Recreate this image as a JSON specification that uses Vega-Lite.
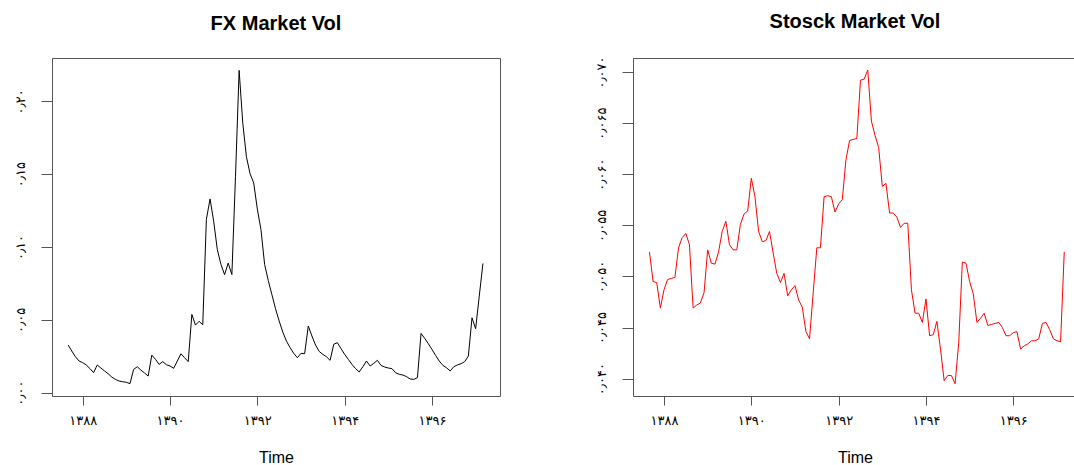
{
  "$schema": "https://vega.github.io/schema/vega-lite/v6.json",
  "background": "white",
  "padding": {"left": 13, "top": 11, "right": 0, "bottom": 0},
  "spacing": 93,
  "datasets": {
    "vol": [
      {"t": 1387.667, "fx": 0.0327, "stock": 0.0524},
      {"t": 1387.75, "fx": 0.0286, "stock": 0.0495},
      {"t": 1387.833, "fx": 0.0247, "stock": 0.0494},
      {"t": 1387.917, "fx": 0.0217, "stock": 0.0469},
      {"t": 1388, "fx": 0.0206, "stock": 0.0487},
      {"t": 1388.083, "fx": 0.0190, "stock": 0.0497},
      {"t": 1388.167, "fx": 0.0165, "stock": 0.0498},
      {"t": 1388.25, "fx": 0.0137, "stock": 0.0499},
      {"t": 1388.333, "fx": 0.0190, "stock": 0.0528},
      {"t": 1388.417, "fx": 0.0169, "stock": 0.0538},
      {"t": 1388.5, "fx": 0.0149, "stock": 0.0542},
      {"t": 1388.583, "fx": 0.0130, "stock": 0.0531},
      {"t": 1388.667, "fx": 0.0107, "stock": 0.0469},
      {"t": 1388.75, "fx": 0.0091, "stock": 0.0472},
      {"t": 1388.833, "fx": 0.0080, "stock": 0.0474},
      {"t": 1388.917, "fx": 0.0075, "stock": 0.0484},
      {"t": 1389, "fx": 0.0071, "stock": 0.0526},
      {"t": 1389.083, "fx": 0.0062, "stock": 0.0513},
      {"t": 1389.167, "fx": 0.0160, "stock": 0.0512},
      {"t": 1389.25, "fx": 0.0178, "stock": 0.0524},
      {"t": 1389.333, "fx": 0.0155, "stock": 0.0544},
      {"t": 1389.417, "fx": 0.0135, "stock": 0.0554},
      {"t": 1389.5, "fx": 0.0114, "stock": 0.0531},
      {"t": 1389.583, "fx": 0.0258, "stock": 0.0526},
      {"t": 1389.667, "fx": 0.0229, "stock": 0.0526},
      {"t": 1389.75, "fx": 0.0194, "stock": 0.0551},
      {"t": 1389.833, "fx": 0.0213, "stock": 0.0561},
      {"t": 1389.917, "fx": 0.0192, "stock": 0.0564},
      {"t": 1390, "fx": 0.0183, "stock": 0.0596},
      {"t": 1390.083, "fx": 0.0167, "stock": 0.0578},
      {"t": 1390.167, "fx": 0.0217, "stock": 0.0544},
      {"t": 1390.25, "fx": 0.0267, "stock": 0.0534},
      {"t": 1390.333, "fx": 0.0240, "stock": 0.0535},
      {"t": 1390.417, "fx": 0.0213, "stock": 0.0544},
      {"t": 1390.5, "fx": 0.0537, "stock": 0.0523},
      {"t": 1390.583, "fx": 0.0464, "stock": 0.0503},
      {"t": 1390.667, "fx": 0.0490, "stock": 0.0494},
      {"t": 1390.75, "fx": 0.0466, "stock": 0.0503},
      {"t": 1390.833, "fx": 0.1190, "stock": 0.0481},
      {"t": 1390.917, "fx": 0.1330, "stock": 0.0487},
      {"t": 1391, "fx": 0.1177, "stock": 0.0491},
      {"t": 1391.083, "fx": 0.0983, "stock": 0.0477},
      {"t": 1391.167, "fx": 0.0880, "stock": 0.0470},
      {"t": 1391.25, "fx": 0.0810, "stock": 0.0446},
      {"t": 1391.333, "fx": 0.0890, "stock": 0.0439},
      {"t": 1391.417, "fx": 0.0811, "stock": 0.0484},
      {"t": 1391.5, "fx": 0.1486, "stock": 0.0528},
      {"t": 1391.583, "fx": 0.2213, "stock": 0.0528},
      {"t": 1391.667, "fx": 0.1850, "stock": 0.0578},
      {"t": 1391.75, "fx": 0.1620, "stock": 0.0579},
      {"t": 1391.833, "fx": 0.1504, "stock": 0.0578},
      {"t": 1391.917, "fx": 0.1440, "stock": 0.0563},
      {"t": 1392, "fx": 0.1260, "stock": 0.0571},
      {"t": 1392.083, "fx": 0.1120, "stock": 0.0575},
      {"t": 1392.167, "fx": 0.0880, "stock": 0.0614},
      {"t": 1392.25, "fx": 0.0770, "stock": 0.0633},
      {"t": 1392.333, "fx": 0.0674, "stock": 0.0634},
      {"t": 1392.417, "fx": 0.0576, "stock": 0.0635},
      {"t": 1392.5, "fx": 0.0492, "stock": 0.0692},
      {"t": 1392.583, "fx": 0.0416, "stock": 0.0693},
      {"t": 1392.667, "fx": 0.0354, "stock": 0.0702},
      {"t": 1392.75, "fx": 0.0309, "stock": 0.0652},
      {"t": 1392.833, "fx": 0.0270, "stock": 0.0638},
      {"t": 1392.917, "fx": 0.0240, "stock": 0.0626},
      {"t": 1393, "fx": 0.0270, "stock": 0.0588},
      {"t": 1393.083, "fx": 0.0267, "stock": 0.0591},
      {"t": 1393.167, "fx": 0.0457, "stock": 0.0562},
      {"t": 1393.25, "fx": 0.0389, "stock": 0.0562},
      {"t": 1393.333, "fx": 0.0327, "stock": 0.0558},
      {"t": 1393.417, "fx": 0.0283, "stock": 0.0548},
      {"t": 1393.5, "fx": 0.0263, "stock": 0.0552},
      {"t": 1393.583, "fx": 0.0247, "stock": 0.0552},
      {"t": 1393.667, "fx": 0.0222, "stock": 0.0487},
      {"t": 1393.75, "fx": 0.0332, "stock": 0.0464},
      {"t": 1393.833, "fx": 0.0343, "stock": 0.0464},
      {"t": 1393.917, "fx": 0.0302, "stock": 0.0455},
      {"t": 1394, "fx": 0.0263, "stock": 0.0478},
      {"t": 1394.083, "fx": 0.0229, "stock": 0.0442},
      {"t": 1394.167, "fx": 0.0194, "stock": 0.0443},
      {"t": 1394.25, "fx": 0.0165, "stock": 0.0456},
      {"t": 1394.333, "fx": 0.0142, "stock": 0.0429},
      {"t": 1394.417, "fx": 0.0178, "stock": 0.0398},
      {"t": 1394.5, "fx": 0.0217, "stock": 0.0403},
      {"t": 1394.583, "fx": 0.0183, "stock": 0.0403},
      {"t": 1394.667, "fx": 0.0201, "stock": 0.0395},
      {"t": 1394.75, "fx": 0.0222, "stock": 0.0435},
      {"t": 1394.833, "fx": 0.0187, "stock": 0.0514},
      {"t": 1394.917, "fx": 0.0176, "stock": 0.0513},
      {"t": 1395, "fx": 0.0169, "stock": 0.0495},
      {"t": 1395.083, "fx": 0.0165, "stock": 0.0483},
      {"t": 1395.167, "fx": 0.0137, "stock": 0.0455},
      {"t": 1395.25, "fx": 0.0126, "stock": 0.0459},
      {"t": 1395.333, "fx": 0.0121, "stock": 0.0464},
      {"t": 1395.417, "fx": 0.0110, "stock": 0.0452},
      {"t": 1395.5, "fx": 0.0094, "stock": 0.0453},
      {"t": 1395.583, "fx": 0.0091, "stock": 0.0454},
      {"t": 1395.667, "fx": 0.0103, "stock": 0.0455},
      {"t": 1395.75, "fx": 0.0407, "stock": 0.0450},
      {"t": 1395.833, "fx": 0.0373, "stock": 0.0442},
      {"t": 1395.917, "fx": 0.0336, "stock": 0.0442},
      {"t": 1396, "fx": 0.0297, "stock": 0.0445},
      {"t": 1396.083, "fx": 0.0256, "stock": 0.0446},
      {"t": 1396.167, "fx": 0.0217, "stock": 0.0429},
      {"t": 1396.25, "fx": 0.0187, "stock": 0.0432},
      {"t": 1396.333, "fx": 0.0171, "stock": 0.0434},
      {"t": 1396.417, "fx": 0.0149, "stock": 0.0437},
      {"t": 1396.5, "fx": 0.0178, "stock": 0.0437},
      {"t": 1396.583, "fx": 0.0190, "stock": 0.0439},
      {"t": 1396.667, "fx": 0.0199, "stock": 0.0454},
      {"t": 1396.75, "fx": 0.0213, "stock": 0.0455},
      {"t": 1396.833, "fx": 0.0251, "stock": 0.0448},
      {"t": 1396.917, "fx": 0.0514, "stock": 0.0439},
      {"t": 1397, "fx": 0.0439, "stock": 0.0437},
      {"t": 1397.083, "fx": 0.0663, "stock": 0.0436},
      {"t": 1397.167, "fx": 0.0887, "stock": 0.0524}
    ]
  },
  "config": {
    "view": {"stroke": null},
    "axis": {
      "grid": false,
      "domainColor": "#555555",
      "tickColor": "#555555",
      "labelColor": "black",
      "labelFont": "DejaVu Sans",
      "labelFontSize": 13,
      "labelFlush": false,
      "labelOverlap": false,
      "titleFont": "Liberation Sans",
      "titleFontSize": 16,
      "titleFontWeight": "normal",
      "titleColor": "black"
    },
    "title": {
      "font": "Liberation Sans",
      "fontSize": 20,
      "fontWeight": "bold",
      "color": "black",
      "anchor": "middle"
    }
  },
  "hconcat": [
    {
      "title": {"text": "FX Market Vol", "offset": 8, "baseline": "alphabetic"},
      "width": 448,
      "height": 338,
      "data": {"name": "vol"},
      "view": {"stroke": "#555555"},
      "mark": {"type": "line", "color": "black", "strokeWidth": 1},
      "encoding": {
        "x": {
          "field": "t",
          "type": "quantitative",
          "scale": {"domain": [1387.297, 1397.558], "nice": false, "zero": false},
          "axis": {
            "values": [1388, 1390, 1392, 1394, 1396],
            "labelExpr": "datum.value < 1389 ? '۱۳۸۸' : datum.value < 1391 ? '۱۳۹۰' : datum.value < 1393 ? '۱۳۹۲' : datum.value < 1395 ? '۱۳۹۴' : '۱۳۹۶'",
            "domain": false,
            "tickSize": 9,
            "labelPadding": 9,
            "title": "Time",
            "titlePadding": 22
          }
        },
        "y": {
          "field": "fx",
          "type": "quantitative",
          "scale": {"domain": [-0.0023, 0.2298], "nice": false, "zero": false},
          "axis": {
            "values": [0, 0.05, 0.1, 0.15, 0.2],
            "labelExpr": "datum.value < 0.025 ? '۰٫۰۰' : datum.value < 0.075 ? '۰٫۰۵' : datum.value < 0.125 ? '۰٫۱۰' : datum.value < 0.175 ? '۰٫۱۵' : '۰٫۲۰'",
            "labelAngle": -90,
            "labelAlign": "center",
            "labelBaseline": "bottom",
            "labelPadding": 14,
            "tickSize": 11,
            "domain": false,
            "title": null
          }
        }
      }
    },
    {
      "title": {"text": "Stosck Market Vol", "offset": 8, "baseline": "alphabetic"},
      "width": 444,
      "height": 338,
      "data": {"name": "vol"},
      "view": {"stroke": null},
      "layer": [
        {
          "mark": {"type": "line", "color": "#ff0000", "strokeWidth": 1},
          "encoding": {
            "x": {
              "field": "t",
              "type": "quantitative",
              "scale": {"domain": [1387.29, 1397.459], "nice": false, "zero": false},
              "axis": {
                "values": [1388, 1390, 1392, 1394, 1396],
                "labelExpr": "datum.value < 1389 ? '۱۳۸۸' : datum.value < 1391 ? '۱۳۹۰' : datum.value < 1393 ? '۱۳۹۲' : datum.value < 1395 ? '۱۳۹۴' : '۱۳۹۶'",
                "domain": true,
                "tickSize": 9,
                "labelPadding": 9,
                "title": "Time",
                "titlePadding": 22
              }
            },
            "y": {
              "field": "stock",
              "type": "quantitative",
              "scale": {"domain": [0.0383, 0.07137], "nice": false, "zero": false},
              "axis": {
                "values": [0.04, 0.045, 0.05, 0.055, 0.06, 0.065, 0.07],
                "labelExpr": "datum.value < 0.0425 ? '۰٫۰۴۰' : datum.value < 0.0475 ? '۰٫۰۴۵' : datum.value < 0.0525 ? '۰٫۰۵۰' : datum.value < 0.0575 ? '۰٫۰۵۵' : datum.value < 0.0625 ? '۰٫۰۶۰' : datum.value < 0.0675 ? '۰٫۰۶۵' : '۰٫۰۷۰'",
                "labelAngle": -90,
                "labelAlign": "center",
                "labelBaseline": "bottom",
                "labelPadding": 14,
                "tickSize": 11,
                "domain": true,
                "title": null
              }
            }
          }
        },
        {
          "mark": {"type": "line", "strokeOpacity": 0},
          "encoding": {
            "x": {
              "field": "t",
              "type": "quantitative",
              "axis": {"orient": "top", "labels": false, "ticks": false, "domain": true, "title": null}
            },
            "y": {"field": "stock", "type": "quantitative"}
          }
        }
      ],
      "resolve": {"axis": {"x": "independent"}}
    }
  ]
}
